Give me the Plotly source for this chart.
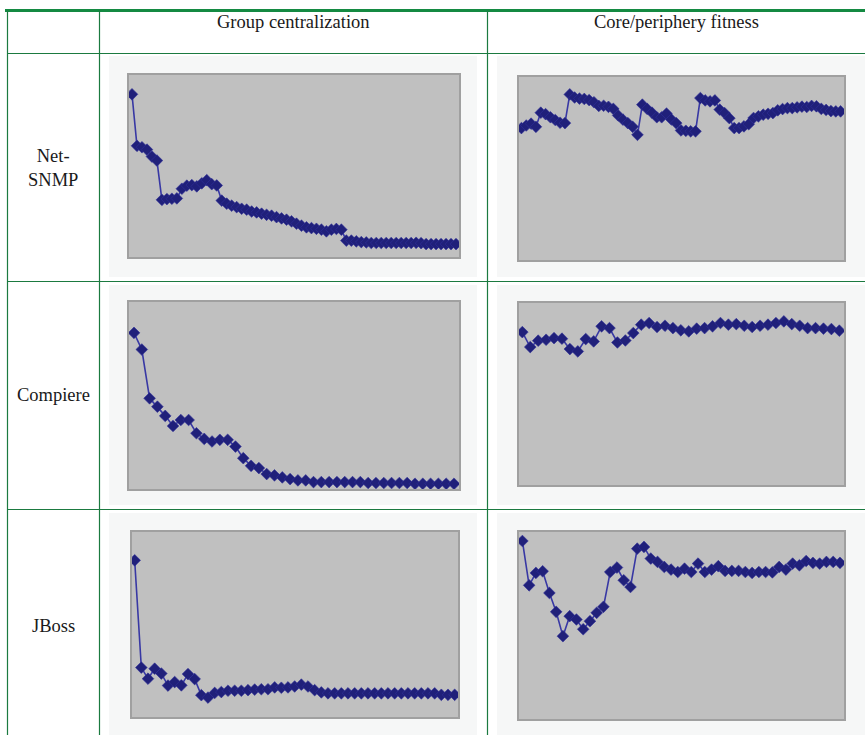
import plotly.graph_objects as go

# ---------------- data (normalised 0..1 values) ----------------
col_titles = ["Group centralization", "Core/periphery fitness"]
row_titles = ["Net-<br>SNMP", "Compiere", "JBoss"]

netsnmp_centralization = [
    0.894, 0.611, 0.603, 0.590, 0.552, 0.530, 0.314, 0.318, 0.320, 0.322,
    0.375, 0.392, 0.395, 0.388, 0.405, 0.422, 0.400, 0.393, 0.310, 0.293,
    0.282, 0.274, 0.265, 0.260, 0.250, 0.245, 0.238, 0.232, 0.227, 0.219,
    0.212, 0.205, 0.196, 0.183, 0.172, 0.163, 0.159, 0.155, 0.150, 0.141,
    0.150, 0.154, 0.150, 0.090, 0.090, 0.086, 0.082, 0.080, 0.077, 0.077,
    0.077, 0.077, 0.077, 0.077, 0.077, 0.077, 0.077, 0.078, 0.076, 0.071,
    0.071, 0.071, 0.071, 0.071, 0.071, 0.071,
]
netsnmp_fitness = [
    0.721, 0.735, 0.745, 0.728, 0.805, 0.797, 0.780, 0.765, 0.750, 0.748,
    0.905, 0.888, 0.882, 0.880, 0.874, 0.862, 0.842, 0.843, 0.837, 0.826,
    0.790, 0.767, 0.748, 0.728, 0.684, 0.849, 0.826, 0.805, 0.780, 0.780,
    0.800, 0.768, 0.748, 0.708, 0.706, 0.703, 0.703, 0.885, 0.872, 0.867,
    0.872, 0.822, 0.803, 0.775, 0.721, 0.721, 0.730, 0.742, 0.776, 0.785,
    0.794, 0.799, 0.803, 0.818, 0.825, 0.830, 0.830, 0.834, 0.838, 0.836,
    0.842, 0.840, 0.826, 0.820, 0.814, 0.812, 0.812,
]
compiere_centralization = [
    0.835, 0.746, 0.485, 0.440, 0.391, 0.337, 0.369, 0.369, 0.298, 0.268,
    0.254, 0.263, 0.263, 0.227, 0.165, 0.124, 0.112, 0.080, 0.073, 0.062,
    0.053, 0.046, 0.046, 0.037, 0.037, 0.037, 0.037, 0.037, 0.037, 0.037,
    0.032, 0.032, 0.032, 0.032, 0.032, 0.032, 0.028, 0.028, 0.028, 0.028,
    0.028, 0.028,
]
compiere_fitness = [
    0.840, 0.758, 0.793, 0.798, 0.807, 0.804, 0.747, 0.734, 0.802, 0.789,
    0.872, 0.862, 0.783, 0.794, 0.835, 0.881, 0.890, 0.868, 0.875, 0.862,
    0.850, 0.844, 0.859, 0.862, 0.872, 0.890, 0.881, 0.884, 0.875, 0.868,
    0.875, 0.881, 0.890, 0.899, 0.884, 0.875, 0.862, 0.862, 0.859, 0.857,
    0.848,
]
jboss_centralization = [
    0.847, 0.267, 0.207, 0.261, 0.235, 0.170, 0.189, 0.171, 0.232, 0.205,
    0.118, 0.105, 0.130, 0.135, 0.142, 0.142, 0.142, 0.145, 0.148, 0.150,
    0.150, 0.160, 0.158, 0.160, 0.165, 0.175, 0.165, 0.145, 0.133, 0.128,
    0.128, 0.128, 0.128, 0.128, 0.128, 0.128, 0.128, 0.128, 0.128, 0.128,
    0.128, 0.128, 0.128, 0.128, 0.128, 0.128, 0.120, 0.120, 0.120,
]
jboss_fitness = [
    0.952, 0.715, 0.781, 0.790, 0.674, 0.573, 0.443, 0.550, 0.532, 0.480,
    0.523, 0.568, 0.600, 0.786, 0.810, 0.742, 0.706, 0.911, 0.920, 0.858,
    0.840, 0.813, 0.799, 0.786, 0.804, 0.786, 0.831, 0.786, 0.799, 0.817,
    0.792, 0.792, 0.792, 0.786, 0.781, 0.786, 0.786, 0.784, 0.813, 0.799,
    0.831, 0.822, 0.845, 0.835, 0.831, 0.840, 0.840, 0.835,
]

series = [
    netsnmp_centralization, netsnmp_fitness,
    compiere_centralization, compiere_fitness,
    jboss_centralization, jboss_fitness,
]
# x padding (in index steps) at left/right of each small chart
x_pad = [(0.6, 0.6), (0.5, 0.7), (0.64, 0.64), (0.42, 0.59), (0.4, 0.5), (0.5, 0.6)]

# ---------------- layout geometry (pixels) ----------------
W, H = 865, 735
plot_boxes = [  # x0, x1, y0(top), y1(bottom)
    (129, 459, 75, 257), (519, 844, 77, 260),
    (129, 459, 302, 489), (519, 844, 303, 485),
    (132, 458, 532, 717), (519, 844, 532, 719),
]

def px(x):
    return x / W

def py(y):
    return 1 - y / H

fig = go.Figure()
layout = dict(
    width=W, height=H, margin=dict(l=0, r=0, t=0, b=0),
    paper_bgcolor="white", plot_bgcolor="#c0c0c0", showlegend=False,
)

for i, (vals, box, pad) in enumerate(zip(series, plot_boxes, x_pad)):
    n = i + 1
    sfx = "" if n == 1 else str(n)
    x0, x1, y0, y1 = box
    common = dict(showgrid=False, zeroline=False, showticklabels=False, ticks="",
                  showline=True, mirror=True, linecolor="#a0a0a0", linewidth=1.5,
                  fixedrange=True)
    layout["xaxis" + sfx] = dict(domain=[px(x0), px(x1)],
                                 range=[-pad[0], len(vals) - 1 + pad[1]],
                                 anchor="y" + sfx, **common)
    layout["yaxis" + sfx] = dict(domain=[py(y1), py(y0)], range=[0, 1],
                                 anchor="x" + sfx, **common)
    fig.add_trace(go.Scatter(
        x=list(range(len(vals))), y=vals, mode="lines+markers",
        xaxis="x" + sfx, yaxis="y" + sfx,
        line=dict(color="#3838a4", width=1.6),
        marker=dict(symbol="diamond", size=9, color="#20207a",
                    line=dict(width=0.6, color="#30309a")),
        hoverinfo="skip",
    ))

shapes = []
# light image backgrounds in each cell
cell_bg = [
    (109, 477, 56, 277), (497, 865, 56, 277),
    (109, 477, 285, 505), (497, 865, 285, 505),
    (109, 477, 513, 735), (497, 865, 513, 735),
]
for x0, x1, y0, y1 in cell_bg:
    shapes.append(dict(type="rect", xref="paper", yref="paper", layer="below",
                       x0=px(x0), x1=px(x1), y0=py(y1), y1=py(y0),
                       fillcolor="#f6f7f7", line=dict(width=0)))
# grey plot areas (drawn after the cell backgrounds so they sit on top)
for i in range(len(series)):
    sfx = "" if i == 0 else str(i + 1)
    shapes.append(dict(type="rect", xref="x" + sfx + " domain", yref="y" + sfx + " domain",
                       layer="below", x0=0, x1=1, y0=0, y1=1,
                       fillcolor="#c0c0c0", line=dict(width=0)))

green = "#1b7a40"
# thick top rule
shapes.append(dict(type="line", xref="paper", yref="paper", x0=px(5), x1=1,
                   y0=py(10.5), y1=py(10.5), line=dict(color="#148a42", width=3)))
# vertical rules
for xv in (7.5, 99.5, 487.5):
    shapes.append(dict(type="line", xref="paper", yref="paper", x0=px(xv), x1=px(xv),
                       y0=0, y1=py(10.5), line=dict(color=green, width=1.2)))
# horizontal rules
for yh in (53.5, 281.5, 509.5):
    shapes.append(dict(type="line", xref="paper", yref="paper", x0=px(7.3), x1=1,
                       y0=py(yh), y1=py(yh), line=dict(color=green, width=1.2)))
layout["shapes"] = shapes

font = dict(family="Liberation Serif, Times New Roman, serif", size=18.5, color="#1a1a1a")
annotations = []
for title, xc in zip(col_titles, (293.5, 676)):
    annotations.append(dict(text=title, xref="paper", yref="paper", x=px(xc), y=py(22),
                            xanchor="center", yanchor="middle", showarrow=False, font=font))
for title, yc in zip(row_titles, (168, 395, 626)):
    annotations.append(dict(text=title, xref="paper", yref="paper", x=px(53), y=py(yc),
                            xanchor="center", yanchor="middle", showarrow=False, font=font))
layout["annotations"] = annotations

fig.update_layout(**layout)
fig.write_html("out.html", config={"displayModeBar": False},
               post_script="document.body.style.margin='0';document.body.style.overflow='hidden';")
